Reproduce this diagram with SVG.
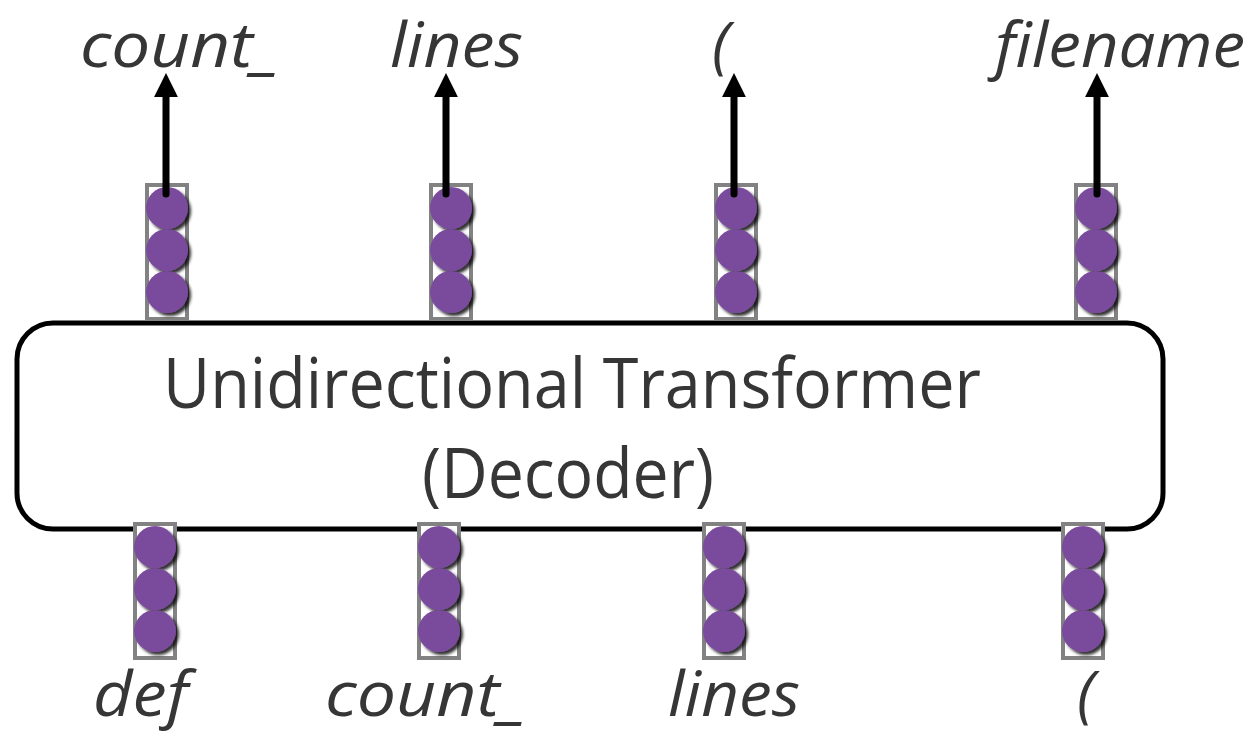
<svg xmlns="http://www.w3.org/2000/svg" width="1254" height="735" viewBox="0 0 1254 735">
  <defs>
    <style>
      .tok { font-family: "Open Sans", "Liberation Sans", sans-serif; font-style: italic; font-size: 63px; fill: #363636; }
      .title { font-family: "Open Sans", "Liberation Sans", sans-serif; font-size: 70px; fill: #363636; text-anchor: middle; }
      .frame { fill: #ffffff; stroke: #828282; stroke-width: 4; }
      .unit { fill: #7a4b9c; filter: url(#shade); }
      .box { fill: #ffffff; stroke: #000000; stroke-width: 5; }
      .arrow { stroke: #000000; stroke-width: 7; fill: none; stroke-linecap: round; marker-end: url(#head); }
    </style>
    <filter id="shade" x="-30%" y="-30%" width="170%" height="170%">
      <feDropShadow dx="3" dy="3" stdDeviation="1.6" flood-color="#000000" flood-opacity="0.8"/>
    </filter>
    <marker id="head" viewBox="0 0 10 10" refX="5" refY="5" markerWidth="3.4" markerHeight="3.4" orient="auto" markerUnits="strokeWidth">
      <path d="M0,0 L10,5 L0,10 z" fill="#000000"/>
    </marker>
    <!-- a stack of three hidden units, centred on x=0, top at y=0 -->
    <g id="stack">
      <rect class="frame" x="-20" y="0" width="40" height="134"/>
      <circle class="unit" cx="0" cy="23" r="21"/>
      <circle class="unit" cx="0" cy="65" r="21"/>
      <circle class="unit" cx="0" cy="107" r="21"/>
    </g>
  </defs>

  <rect width="1254" height="735" fill="#ffffff"/>

  <!-- decoder block -->
  <g id="decoder">
    <rect class="box" x="17" y="323" width="1146" height="206" rx="36" ry="36"/>
    <text class="title" x="572" y="408" textLength="818" lengthAdjust="spacingAndGlyphs">Unidirectional Transformer</text>
    <text class="title" x="568" y="498" textLength="292" lengthAdjust="spacingAndGlyphs">(Decoder)</text>
  </g>

  <!-- output vectors -->
  <g id="out-1"><use href="#stack" x="167" y="185"/></g>
  <g id="out-2"><use href="#stack" x="451" y="185"/></g>
  <g id="out-3"><use href="#stack" x="736" y="185"/></g>
  <g id="out-4"><use href="#stack" x="1096" y="185"/></g>

  <!-- input vectors -->
  <g id="in-1"><use href="#stack" x="155" y="524"/></g>
  <g id="in-2"><use href="#stack" x="439" y="524"/></g>
  <g id="in-3"><use href="#stack" x="724" y="524"/></g>
  <g id="in-4"><use href="#stack" x="1083" y="524"/></g>

  <!-- predicted tokens -->
  <g id="next-tokens">
    <text class="tok" x="80" y="67" textLength="200" lengthAdjust="spacingAndGlyphs">count_</text>
    <text class="tok" x="390" y="67" textLength="133" lengthAdjust="spacingAndGlyphs">lines</text>
    <text class="tok" x="712" y="67">(</text>
    <text class="tok" x="995" y="67" textLength="250" lengthAdjust="spacingAndGlyphs">filename</text>
  </g>

  <!-- input tokens -->
  <g id="input-tokens">
    <text class="tok" x="93" y="716" textLength="95" lengthAdjust="spacingAndGlyphs">def</text>
    <text class="tok" x="325" y="716" textLength="202" lengthAdjust="spacingAndGlyphs">count_</text>
    <text class="tok" x="668" y="716" textLength="132" lengthAdjust="spacingAndGlyphs">lines</text>
    <text class="tok" x="1077" y="716">(</text>
  </g>

  <!-- connectors -->
  <g id="connectors">
    <line class="arrow" x1="166" y1="194" x2="166" y2="85"/>
    <line class="arrow" x1="446" y1="194" x2="446" y2="85"/>
    <line class="arrow" x1="734" y1="194" x2="734" y2="85"/>
    <line class="arrow" x1="1097" y1="194" x2="1097" y2="85"/>
  </g>
</svg>
